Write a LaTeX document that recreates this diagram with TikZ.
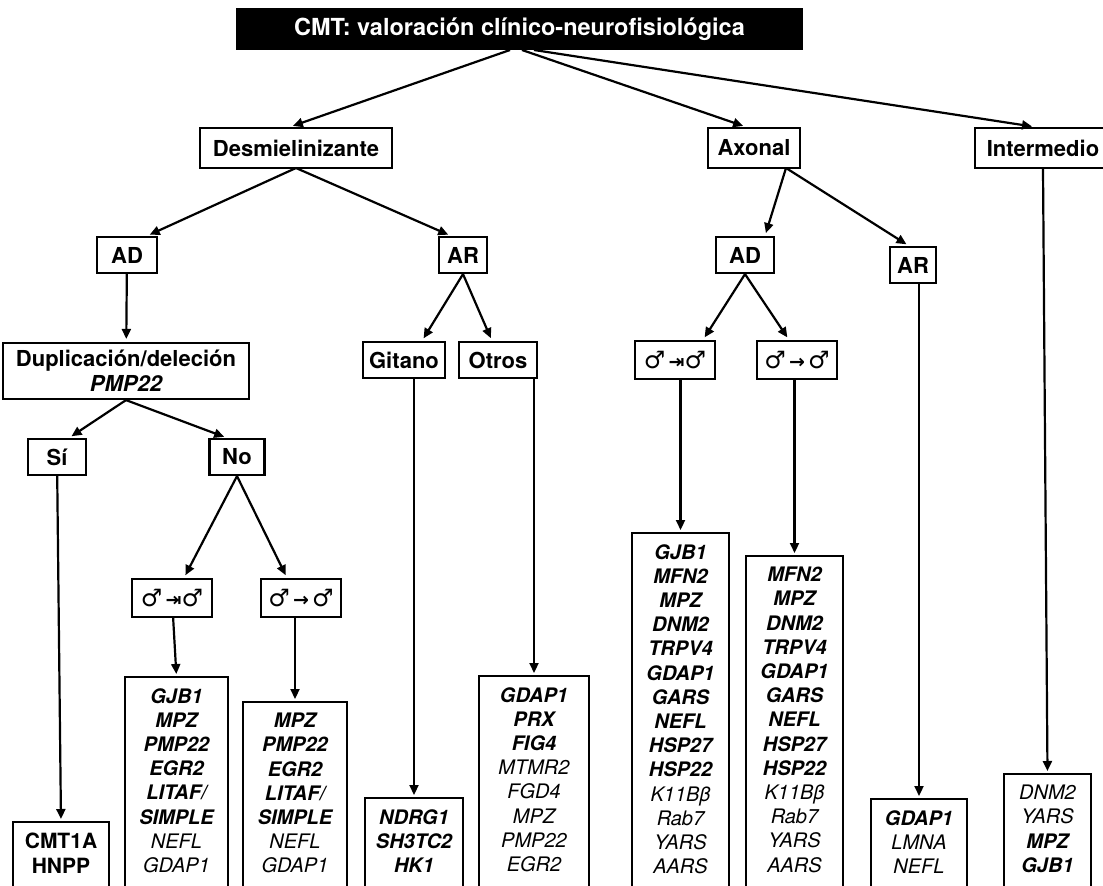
\documentclass[tikz,border=0pt]{standalone}
\usepackage{fontspec}
\setmainfont{TeX Gyre Heros}
\newfontfamily\dejavu{DejaVu Sans}
\usetikzlibrary{arrows.meta}
\newcommand\genB[1]{{\bfseries\itshape #1}}
\newcommand\genI[1]{{\itshape #1}}
\newcommand\mars{{\dejavu\fontsize{24}{24}\selectfont ♂}}
\newcommand\symA{\mars\,{\dejavu\bfseries ⇥}\mars}
\newcommand\symB{\mars\,{\dejavu\bfseries →}\,\mars}
\begin{document}
\begin{tikzpicture}[x=1pt,y=-1pt,
  lab/.style={draw, line width=2.2pt, font=\fontsize{22}{25}\selectfont\bfseries, inner xsep=0pt, inner ysep=0pt, minimum height=36pt, align=center},
  sym/.style={draw, line width=2.2pt, font=\fontsize{19}{22}\selectfont, inner sep=0pt, minimum height=38pt, minimum width=80pt},
  lst/.style={inner xsep=0pt, inner ysep=11pt, font=\fontsize{20}{24.2}\selectfont, align=center, anchor=north},
  frame/.style={draw, line width=2.2pt},
  arr/.style={line width=2.2pt, -{Triangle[length=10pt,width=9pt]}, shorten >=3pt},
]
\useasboundingbox (0,0) rectangle (1103,886);
\clip (0,0) rectangle (1103,886);

% title
\node[fill=black, text=white, font=\fontsize{23.5}{26}\selectfont\bfseries, minimum width=567pt, minimum height=42pt, inner sep=0pt] (title) at (519.5,29) {CMT: valoración clínico-neurofisiológica};
\coordinate (t1) at (510,50);
\coordinate (t2) at (522,50);
\coordinate (t3) at (534,50);

% level 1
\node[lab, minimum width=192pt, minimum height=40pt] (des) at (296,148) {Desmielinizante};
\node[lab, minimum width=92pt, minimum height=40pt] (axo) at (754,148) {Axonal};
\node[lab, minimum width=136pt, minimum height=40pt] (int) at (1043,148) {Intermedio};
\coordinate (desF) at (296,168);
\coordinate (axoF) at (786,168);

% level 2
\node[lab, minimum width=60pt] (adL) at (127,255) {AD};
\node[lab, minimum width=48pt] (arL) at (463,255) {AR};
\node[lab, minimum width=58pt] (adR) at (745,255) {AD};
\node[lab, minimum width=46pt] (arR) at (913,265) {AR};

% level 3
\node[lab, minimum width=246pt, minimum height=56pt] (dup) at (126,371) {Duplicación/deleción\\\genB{PMP22}};
\node[lab, minimum width=82pt] (git) at (404,360) {Gitano};
\node[lab, minimum width=78pt] (otr) at (498,360) {Otros};
\node[sym] (sR1) at (675,360) {\symA};
\node[sym] (sR2) at (797,360) {\symB};

% level 4
\node[lab, minimum width=58pt] (si) at (57,457) {Sí};
\node[lab, minimum width=55pt] (no) at (237,457) {No};
\node[sym] (sL1) at (172,598) {\symA};
\node[sym] (sL2) at (301,598) {\symB};

% lists
\node[lst, text width=96pt, font=\fontsize{21}{25}\selectfont\bfseries] (cmt) at (61,822) {CMT1A\\HNPP};
\node[lst, text width=103pt] (l1) at (176.5,677) {\genB{GJB1}\\\genB{MPZ}\\\genB{PMP22}\\\genB{EGR2}\\\genB{LITAF/}\\\genB{SIMPLE}\\\genI{NEFL}\\\genI{GDAP1}};
\node[lst, text width=104pt] (l2) at (295,702) {\genB{MPZ}\\\genB{PMP22}\\\genB{EGR2}\\\genB{LITAF/}\\\genB{SIMPLE}\\\genI{NEFL}\\\genI{GDAP1}};
\node[lst, text width=98pt] (l3) at (414,798) {\genB{NDRG1}\\\genB{SH3TC2}\\\genB{HK1}};
\node[lst, text width=110pt] (l4) at (534,676) {\genB{GDAP1}\\\genB{PRX}\\\genB{FIG4}\\\genI{MTMR2}\\\genI{FGD4}\\\genI{MPZ}\\\genI{PMP22}\\\genI{EGR2}};
\node[lst, text width=97pt] (l5) at (680.5,533) {\genB{GJB1}\\\genB{MFN2}\\\genB{MPZ}\\\genB{DNM2}\\\genB{TRPV4}\\\genB{GDAP1}\\\genB{GARS}\\\genB{NEFL}\\\genB{HSP27}\\\genB{HSP22}\\\genI{K11Bβ}\\\genI{Rab7}\\\genI{YARS}\\\genI{AARS}};
\node[lst, text width=97pt] (l6) at (794.5,556) {\genB{MFN2}\\\genB{MPZ}\\\genB{DNM2}\\\genB{TRPV4}\\\genB{GDAP1}\\\genB{GARS}\\\genB{NEFL}\\\genB{HSP27}\\\genB{HSP22}\\\genI{K11Bβ}\\\genI{Rab7}\\\genI{YARS}\\\genI{AARS}};
\node[lst, text width=96pt] (l7) at (919,799) {\genB{GDAP1}\\\genI{LMNA}\\\genI{NEFL}};
\node[lst, text width=87pt] (l8) at (1047.5,774) {\genI{DNM2}\\\genI{YARS}\\\genB{MPZ}\\\genB{GJB1}};

\foreach \n in {cmt,l1,l2,l3,l4,l5,l6,l7,l8}
  \draw[frame] (\n.north west) rectangle (\n.east |- 0,900);

% connectors
\draw[arr] (t1) -- ([xshift=-6pt]des.north);
\draw[arr] (t2) -- ([xshift=-8pt]axo.north);
\draw[arr] (t3) -- ([xshift=-8pt]int.north);

\draw[arr] (desF) -- ([xshift=20pt]adL.north);
\draw[arr] (desF) -- ([xshift=-12pt]arL.north);
\draw[arr] (adL) -- (dup);
\draw[arr] (arL.south) -- ([xshift=18pt]git.north);
\draw[arr] (arL.south) -- ([xshift=-6pt]otr.north);
\draw[arr] (dup.south) -- ([xshift=12pt]si.north);
\draw[arr] (dup.south) -- ([xshift=-10pt]no.north);
\draw[arr] (si) -- (cmt.north);
\draw[arr] (no.south) -- ([xshift=12pt]sL1.north);
\draw[arr] (no.south) -- ([xshift=-14pt]sL2.north);
\draw[arr] (sL1) -- (l1.north);
\draw[arr] (sL2.south -| l2.north) -- (l2.north);
\draw[arr] (git.south -| l3.north) -- (l3.north);
\draw[arr] (otr.south -| l4.north) -- (l4.north);

\draw[arr] (axoF) -- ([xshift=20pt]adR.north);
\draw[arr] (axoF) -- ([xshift=-4pt]arR.north);
\draw[arr] (adR.south) -- ([xshift=28pt]sR1.north);
\draw[arr] (adR.south) -- ([xshift=-8pt]sR2.north);
\draw[arr] (sR1.south -| l5.north) -- (l5.north);
\draw[arr] (sR2.south -| l6.north) -- (l6.north);
\draw[arr] (arR.south -| l7.north) -- (l7.north);
\draw[arr] (int.south) -- (l8.north);
\end{tikzpicture}
\end{document}
